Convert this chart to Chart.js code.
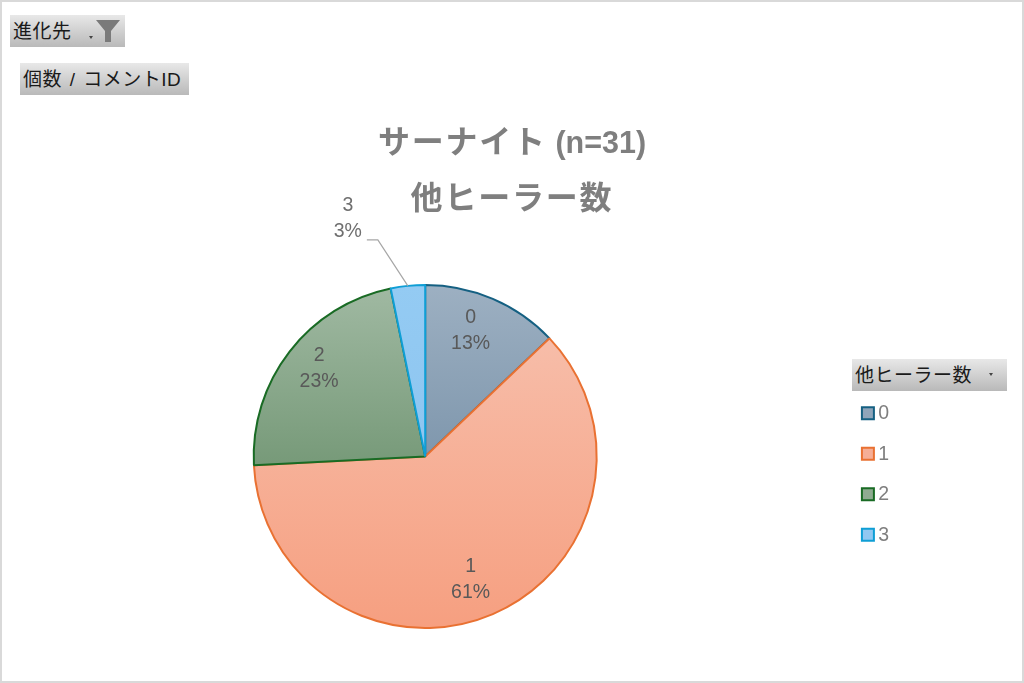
<!DOCTYPE html>
<html><head><meta charset="utf-8">
<script src="https://cdn.jsdelivr.net/npm/chart.js@4"></script>
<style>
html,body{margin:0;padding:0;background:#fff;overflow:hidden}
#wrap{position:relative;width:1024px;height:683px}
canvas{position:absolute;left:0;top:0}
#frame{position:absolute;left:0;top:0;width:1020px;height:679px;border:2px solid #d9d9d9;pointer-events:none}
.pill{position:absolute;height:32px;background:linear-gradient(#e8e8e8,#b9b9b9);color:#1a1a1a;
font:19px/33px 'Liberation Sans','Noto Sans CJK JP',sans-serif;letter-spacing:.5px;word-spacing:2px;padding-left:3px;box-sizing:border-box;white-space:nowrap}
.arrow{position:absolute;width:0;height:0;border-left:2px solid transparent;border-right:2px solid transparent;border-top:3px solid #444}
svg{position:absolute}
.title{position:absolute;left:0;width:1024px;text-align:center;color:#7f7f7f;font:bold 30.5px/44px 'Liberation Sans','Noto Sans CJK JP',sans-serif;white-space:nowrap}
.kana{font-size:32px;letter-spacing:1.8px}
</style></head><body>
<div id="wrap">
<canvas id="c" width="1024" height="683"></canvas>
<div class="title" style="top:120px"><span class="kana">サーナイト</span> (n=31)</div>
<div class="title" style="top:176px"><span class="kana">他ヒーラー数</span></div>
<div class="pill" style="left:10px;top:15px;width:115px">進化先<span class="arrow" style="left:79px;top:21px"></span>
<svg style="left:85px;top:4px" width="26" height="24" viewBox="0 0 26 24"><path d="M1 1H25L16 12V23H10V12Z" fill="#7a7a7a"/></svg></div>
<div class="pill" style="left:20px;top:63px;width:169px">個数 / コメントID</div>
<div class="pill" style="left:852px;top:359px;width:155px">他ヒーラー数<span class="arrow" style="left:137px;top:14px"></span></div>
<div id="frame"></div>
</div>
<script>
const categories = ['0','1','2','3'];
const counts = [4,19,7,1];
const percentLabels = ['13%','61%','23%','3%'];
const borderColors = ['#156082','#E97132','#196B24','#0F9ED5'];
const gradientTop = ['#9DB0C2','#F7BDA9','#A0B9A2','#94CBF3'];
const gradientBottom = ['#7F97AD','#F69F80','#779A79','#8EC5F0'];
const gradientSpan = [[0,0.5],[0.155,1],[0.01,0.52],[0,0.5]];
const legendFill = ['#8FA5BA','#F6AE96','#8FAB91','#91C8F2'];
const labelOffsets = [[-8,-1],[-8,-1],[1,-5],[-60,-67]];

const CJK = "'Liberation Sans','Noto Sans CJK JP',sans-serif";

const sliceFill = (ctx) => {
  const a = ctx.chart.chartArea;
  if (!a) return gradientTop[ctx.dataIndex];
  const h = a.bottom - a.top;
  const [s,e] = gradientSpan[ctx.dataIndex];
  const g = ctx.chart.ctx.createLinearGradient(0, a.top+h*s, 0, a.top+h*e);
  g.addColorStop(0, gradientTop[ctx.dataIndex]);
  g.addColorStop(1, gradientBottom[ctx.dataIndex]);
  return g;
};

const legendSwatches = {
  id:'legendSwatches',
  afterDraw(chart){
    const {ctx, legend} = chart;
    ctx.save();
    legend.legendHitBoxes.forEach((hb,i)=>{
      const cy = hb.top + hb.height/2;
      ctx.fillStyle = legendFill[i];
      ctx.strokeStyle = borderColors[i];
      ctx.lineWidth = 2;
      ctx.beginPath();
      ctx.rect(hb.left+0.5, cy-6.5, 12, 12);
      ctx.fill(); ctx.stroke();
    });
    ctx.restore();
  }
};

const sliceLabels = {
  id:'sliceLabels',
  afterDatasetsDraw(chart){
    const {ctx} = chart;
    const arcs = chart.getDatasetMeta(0).data;
    ctx.save();
    ctx.textAlign='center'; ctx.textBaseline='middle';
    ctx.font = "19.5px "+CJK;
    arcs.forEach((arc,i)=>{
      const mid = (arc.startAngle+arc.endAngle)/2;
      const small = counts[i]/counts.reduce((a,b)=>a+b,0) < 0.05;
      const r = small ? arc.outerRadius : arc.outerRadius*0.79;
      const px = arc.x+Math.cos(mid)*r, py = arc.y+Math.sin(mid)*r;
      const lx = px+labelOffsets[i][0], ly = py+labelOffsets[i][1];
      if (small){
        ctx.strokeStyle='#a6a6a6'; ctx.lineWidth=1.2;
        ctx.beginPath();
        ctx.moveTo(px,py);
        ctx.lineTo(lx+30,ly+21);
        ctx.lineTo(lx+19,ly+21);
        ctx.stroke();
      }
      ctx.fillStyle = small ? '#6f6f6f' : '#595959';
      ctx.fillText(categories[i],lx,ly-13);
      ctx.fillText(percentLabels[i],lx,ly+13);
    });
    ctx.restore();
  }
};

new Chart(document.getElementById('c'),{
  type:'pie',
  data:{labels:categories,datasets:[{data:counts,backgroundColor:sliceFill,borderColor:borderColors,borderWidth:2,borderAlign:'center'}]},
  options:{
    responsive:false,animation:false,devicePixelRatio:1,
    layout:{padding:{left:0,right:125,top:284,bottom:54}},
    plugins:{
      tooltip:{enabled:false},
      title:{display:false},
      legend:{position:'right',align:'start',
        title:{display:true,text:' ',font:{size:1,lineHeight:1},padding:{top:103,bottom:0}},
        labels:{boxWidth:7,boxHeight:29.5,padding:11,color:'#7f7f7f',
          font:{family:CJK,size:19.5},
          generateLabels(chart){
            return categories.map((t,i)=>({text:t,fillStyle:'rgba(0,0,0,0)',strokeStyle:'rgba(0,0,0,0)',lineWidth:0,hidden:false,index:i,fontColor:'#7f7f7f'}));
          }}
      }
    }
  },
  plugins:[sliceLabels,legendSwatches]
});
</script>
</body></html>
